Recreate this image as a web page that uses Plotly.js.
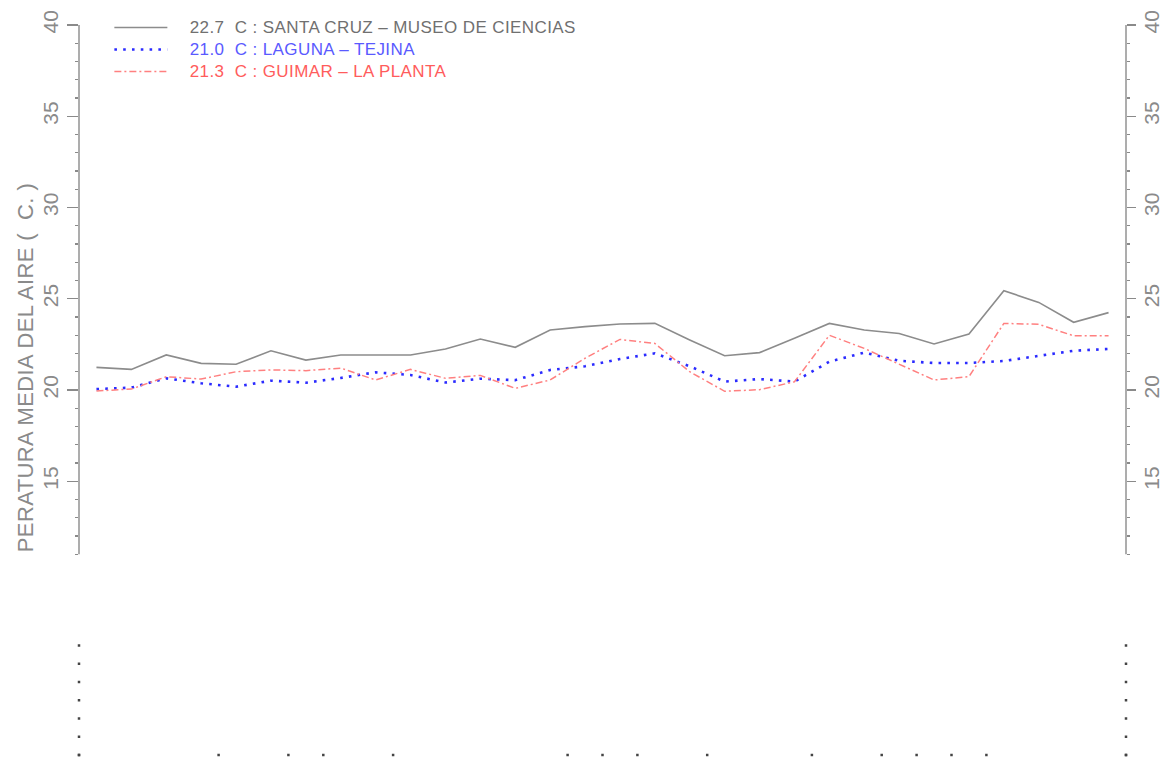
<!DOCTYPE html>
<html>
<head>
<meta charset="utf-8">
<script src="https://cdn.plot.ly/plotly-3.0.1.min.js"></script>
<style>
  html, body { margin: 0; padding: 0; background: #ffffff; }
  #chart { width: 1164px; height: 757px; }
</style>
</head>
<body>
<div id="chart"></div>
<script>
// Daily mean air temperature at three Tenerife stations
const days = [1, 2, 3, 4, 5, 6, 7, 8, 9, 10, 11, 12, 13, 14, 15,
              16, 17, 18, 19, 20, 21, 22, 23, 24, 25, 26, 27, 28, 29, 30];

const santaCruz = [21.24, 21.13, 21.92, 21.46, 21.41, 22.15, 21.64, 21.92, 21.92, 21.92,
                   22.25, 22.79, 22.34, 23.29, 23.47, 23.62, 23.65, 22.74, 21.88, 22.05,
                   22.83, 23.65, 23.29, 23.10, 22.52, 23.07, 25.44, 24.80, 23.71, 24.24];

const laguna = [20.05, 20.13, 20.64, 20.37, 20.18, 20.51, 20.40, 20.66, 20.97, 20.82,
                20.41, 20.62, 20.54, 21.10, 21.30, 21.70, 22.01, 21.30, 20.46, 20.60,
                20.46, 21.55, 22.05, 21.60, 21.48, 21.48, 21.59, 21.86, 22.15, 22.25];

const guimar = [19.95, 20.05, 20.73, 20.60, 21.00, 21.10, 21.06, 21.20, 20.55, 21.13,
                20.64, 20.80, 20.09, 20.55, 21.74, 22.77, 22.55, 21.00, 19.93, 20.02,
                20.45, 23.00, 22.28, 21.40, 20.55, 20.73, 23.65, 23.60, 22.97, 22.97];

const stationNames = ['SANTA CRUZ \u2013 MUSEO DE CIENCIAS', 'LAGUNA \u2013 TEJINA', 'GUIMAR \u2013 LA PLANTA'];

// Temperature axis
const yRange = [0, 40];
const axisSpan = [11, 40];
const yTickVals = [15, 20, 25, 30, 35, 40];
const yTickText = ['15', '20', '25', '30', '35', '40'];
const yMinorVals = [11, 12, 13, 14, 16, 17, 18, 19, 21, 22, 23, 24, 26, 27, 28, 29,
                    31, 32, 33, 34, 36, 37, 38, 39];
const xRange = [0.5, 30.5];

// Leftover tick stubs along the lower frame
const edgeStubY = [0, 1, 2, 3, 4, 5, 6];
const baseStubX = [0.5, 4.5, 6.5, 7.5, 9.5, 14.5, 15.5, 16.5, 18.5, 21.5, 23.5, 24.5, 25.5, 26.5, 30.5];

const yTitle = 'PERATURA MEDIA DEL AIRE (\u00a0\u00a0C. )';

function mean(arr) {
  return arr.reduce((s, v) => s + v, 0) / arr.length;
}
function legendLabel(values, station, color) {
  return '<span style="color:' + color + ';font-size:17px;letter-spacing:0.4px">\u2003' +
         mean(values).toFixed(1) + '\u00a0\u00a0C : ' + station + '</span>';
}

const axisColor = '#8a8a8a';

const traces = [
  {
    x: days, y: santaCruz, type: 'scatter', mode: 'lines',
    name: legendLabel(santaCruz, stationNames[0], '#707070'),
    line: { color: '#8c8c8c', width: 1.6 },
    hoverinfo: 'skip'
  },
  {
    x: days, y: laguna, type: 'scatter', mode: 'lines',
    name: legendLabel(laguna, stationNames[1], '#5a5aff'),
    line: { color: '#2b2bff', width: 2.6, dash: '2.6px,6.2px' },
    hoverinfo: 'skip'
  },
  {
    x: days, y: guimar, type: 'scatter', mode: 'lines',
    name: legendLabel(guimar, stationNames[2], '#ff5c5c'),
    line: { color: '#ff8080', width: 1.5, dash: '7px,3px,2px,3px' },
    hoverinfo: 'skip'
  },
  {
    x: edgeStubY.map(() => xRange[0]).concat(baseStubX),
    y: edgeStubY.concat(baseStubX.map(() => yRange[0])),
    type: 'scatter', mode: 'markers', showlegend: false, cliponaxis: false,
    marker: { size: 2.5, symbol: 'square', color: '#444444' },
    hoverinfo: 'skip'
  },
  {
    x: edgeStubY.map(() => xRange[1]), y: edgeStubY, yaxis: 'y2',
    type: 'scatter', mode: 'markers', showlegend: false, cliponaxis: false,
    marker: { size: 2.5, symbol: 'square', color: '#444444' },
    hoverinfo: 'skip'
  }
];

const yCommon = {
  range: yRange,
  tickmode: 'array', tickvals: yTickVals, ticktext: yTickText,
  ticks: 'outside', tickwidth: 1.4, tickcolor: axisColor,
  tickangle: -90,
  tickfont: { size: 21, color: '#8a8a8a' },
  showline: false, showgrid: false, zeroline: false, fixedrange: true,
  minor: { tickmode: 'array', tickvals: yMinorVals, ticks: 'outside', ticklen: 3,
           tickwidth: 1.4, tickcolor: axisColor, showgrid: false }
};

const layout = {
  width: 1164, height: 757,
  margin: { l: 79, r: 38, t: 25, b: 2, pad: 0 },
  paper_bgcolor: '#ffffff', plot_bgcolor: '#ffffff',
  font: { family: 'Liberation Sans, Arial, sans-serif', color: '#808080' },
  showlegend: true,
  legend: {
    x: 0.029, y: 1.0185, xanchor: 'left', yanchor: 'top',
    bgcolor: 'rgba(0,0,0,0)', borderwidth: 0,
    font: { size: 14.6 }, itemwidth: 53, tracegroupgap: 0
  },
  xaxis: {
    range: xRange, showline: false, showgrid: false, zeroline: false,
    ticks: '', showticklabels: false, fixedrange: true
  },
  yaxis: Object.assign({}, yCommon, { side: 'left', ticklen: 11, ticklabelstandoff: 1 }),
  yaxis2: Object.assign({}, yCommon, { side: 'right', overlaying: 'y', ticklen: 9, ticklabelstandoff: -2 }),
  shapes: [
    { type: 'line', xref: 'paper', yref: 'y', x0: 0, x1: 0, y0: axisSpan[0], y1: axisSpan[1],
      line: { color: axisColor, width: 1.4 } },
    { type: 'line', xref: 'paper', yref: 'y', x0: 1, x1: 1, y0: axisSpan[0], y1: axisSpan[1],
      line: { color: axisColor, width: 1.4 } }
  ],
  annotations: [
    { xref: 'paper', yref: 'y', x: 0, y: axisSpan[0], xshift: -53.5, xanchor: 'center', yanchor: 'bottom',
      textangle: -90, showarrow: false,
      text: '<span style="letter-spacing:0.4px">' + yTitle + '</span>',
      font: { size: 22, color: '#8a8a8a' } }
  ]
};

Plotly.newPlot('chart', traces, layout, { staticPlot: true, displayModeBar: false });
</script>
</body>
</html>
